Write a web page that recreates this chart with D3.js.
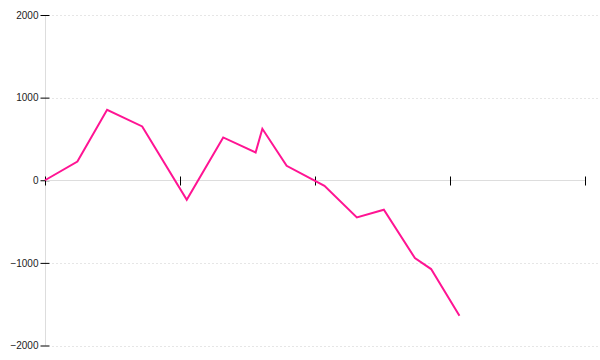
<!DOCTYPE html>
<html>
<head>
<meta charset="utf-8">
<script src="https://cdn.jsdelivr.net/npm/d3@7"></script>
<style>
  body { margin: 0; background: #fff; }
  svg { display: block; font-family: "DejaVu Sans", sans-serif; }
</style>
</head>
<body>
<div id="chart"></div>
<script>
// values
const xValues = [0, 2.4, 4.6, 7.2, 10.5, 13.2, 15.6, 16.1, 17.9, 20.7, 23.1, 25.1, 27.4, 28.6, 30.7];
const yValues = [0, 227, 853, 651, -236, 518, 336, 623, 175, -67, -450, -357, -942, -1075, -1640];
const xTicks = [0, 10, 20, 30, 40];
const yTicks = [-2000, -1000, 0, 1000, 2000];

const width = 600, height = 360;

const x = d3.scaleLinear().domain([0, 40]).range([45, 585]);
const y = d3.scaleLinear().domain([-2000, 2000]).range([345.5, 15]);

const svg = d3.select("#chart").append("svg")
    .attr("width", width)
    .attr("height", height);

// dashed grid lines (skip zero, the x axis sits there)
svg.append("g")
    .selectAll("line")
    .data(yTicks.filter(d => d !== 0))
    .enter().append("line")
    .attr("x1", 52).attr("x2", width)
    .attr("y1", d => Math.round(y(d)) + 0.5)
    .attr("y2", d => Math.round(y(d)) + 0.5)
    .attr("stroke", "#e6e6e6")
    .attr("stroke-dasharray", "2,2");

// y axis
const yAxis = svg.append("g")
    .attr("transform", "translate(45.5,0)")
    .call(d3.axisLeft(y).tickValues(yTicks).tickSize(5).tickPadding(1).tickFormat(d3.format("d")));
yAxis.select(".domain").attr("stroke", "#ddd").attr("d", `M0,${y(2000)}V${y(-2000)}`);
yAxis.selectAll(".tick line").attr("x1", -5).attr("x2", 4).attr("stroke", "#000");
yAxis.selectAll(".tick text")
    .attr("x", -7)
    .attr("fill", "#222")
    .style("font-size", "10px")
    .text(d => d < 0 ? "\u2212" + Math.abs(d) : d);

// x axis without labels
const xAxis = svg.append("g")
    .attr("transform", `translate(0,${Math.round(y(0)) + 0.5})`)
    .call(d3.axisBottom(x).tickValues(xTicks).tickSize(5).tickFormat(""));
xAxis.select(".domain").attr("stroke", "#ddd").attr("d", `M${x(0)},0H${x(40)}`);
xAxis.selectAll(".tick line").attr("y1", -4).attr("y2", 5).attr("stroke", "#000");

// the series
const line = d3.line()
    .x((d, i) => x(xValues[i]))
    .y(d => y(d));

svg.append("path")
    .datum(yValues)
    .attr("fill", "none")
    .attr("stroke", "#ff1493")
    .attr("stroke-width", 2)
    .attr("d", line);
</script>
</body>
</html>
